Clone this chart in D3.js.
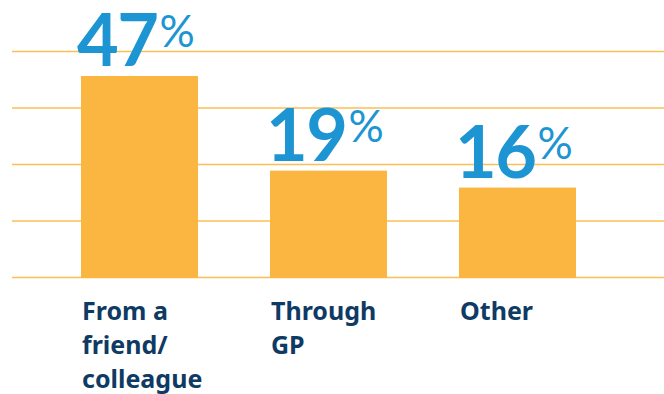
<!DOCTYPE html>
<html>
<head>
<meta charset="utf-8">
<script src="https://cdn.jsdelivr.net/npm/d3@7"></script>
<style>
  html, body { margin: 0; padding: 0; background: #fff; }
  svg { display: block; }
</style>
</head>
<body>
<svg id="chart" width="664" height="394"></svg>
<script>
// How people heard about the service
const categories = ["From a friend/ colleague", "Through GP", "Other"];
const categoryLines = [["From a", "friend/", "colleague"], ["Through", "GP"], ["Other"]];
const values = [47, 19, 16];
const gridTicks = [0, 10, 20, 30, 40];
// the tallest bar is cut at an axis break so it stays below its label
const axisBreak = 35.75;

const W = 664, H = 394;
const svg = d3.select("#chart");

const x = d3.scaleBand()
  .domain(categories)
  .range([81, 576])
  .paddingInner(0.381)
  .paddingOuter(0);

const y = d3.scaleLinear().domain([0, 40]).range([278, 52]);

// horizontal gridlines
svg.append("g").selectAll("line")
  .data(gridTicks)
  .join("line")
  .attr("x1", 12).attr("x2", W)
  .attr("y1", d => y(d) - 0.5).attr("y2", d => y(d) - 0.5)
  .attr("stroke", "#fbbf55")
  .attr("stroke-width", 1.5);

// bars
svg.append("g").selectAll("rect")
  .data(values)
  .join("rect")
  .attr("x", (d, i) => x(categories[i]))
  .attr("width", x.bandwidth())
  .attr("y", d => y(Math.min(d, axisBreak)))
  .attr("height", d => y(0) - y(Math.min(d, axisBreak)))
  .attr("fill", "#fbb541");

// value labels: big number with a superscript percent sign
const vl = svg.append("g").selectAll("text")
  .data(values)
  .join("text")
  .attr("x", (d, i) => x(categories[i]) - 4)
  .attr("y", d => y(Math.min(d, axisBreak)) - 10)
  .attr("fill", "#1e95d3")
  .attr("font-family", "Lato, sans-serif");
vl.append("tspan")
  .attr("font-size", 72)
  .attr("font-weight", 700)
  .attr("letter-spacing", -1.5)
  .text(d => d);
vl.append("tspan")
  .attr("font-size", 44)
  .attr("font-weight", 400)
  .attr("dx", 2)
  .attr("dy", -19)
  .text("%");

// category labels
const cl = svg.append("g").selectAll("text")
  .data(categoryLines)
  .join("text")
  .attr("x", (d, i) => x(categories[i]) + 1)
  .attr("y", 320)
  .attr("fill", "#0e3a64")
  .attr("font-family", "'Noto Sans', sans-serif")
  .attr("font-weight", 700)
  .attr("font-size", 25);
cl.selectAll("tspan")
  .data(d => d)
  .join("tspan")
  .attr("x", function () { return this.parentNode.getAttribute("x"); })
  .attr("dy", (d, i) => i === 0 ? 0 : 34)
  .text(d => d);
</script>
</body>
</html>
